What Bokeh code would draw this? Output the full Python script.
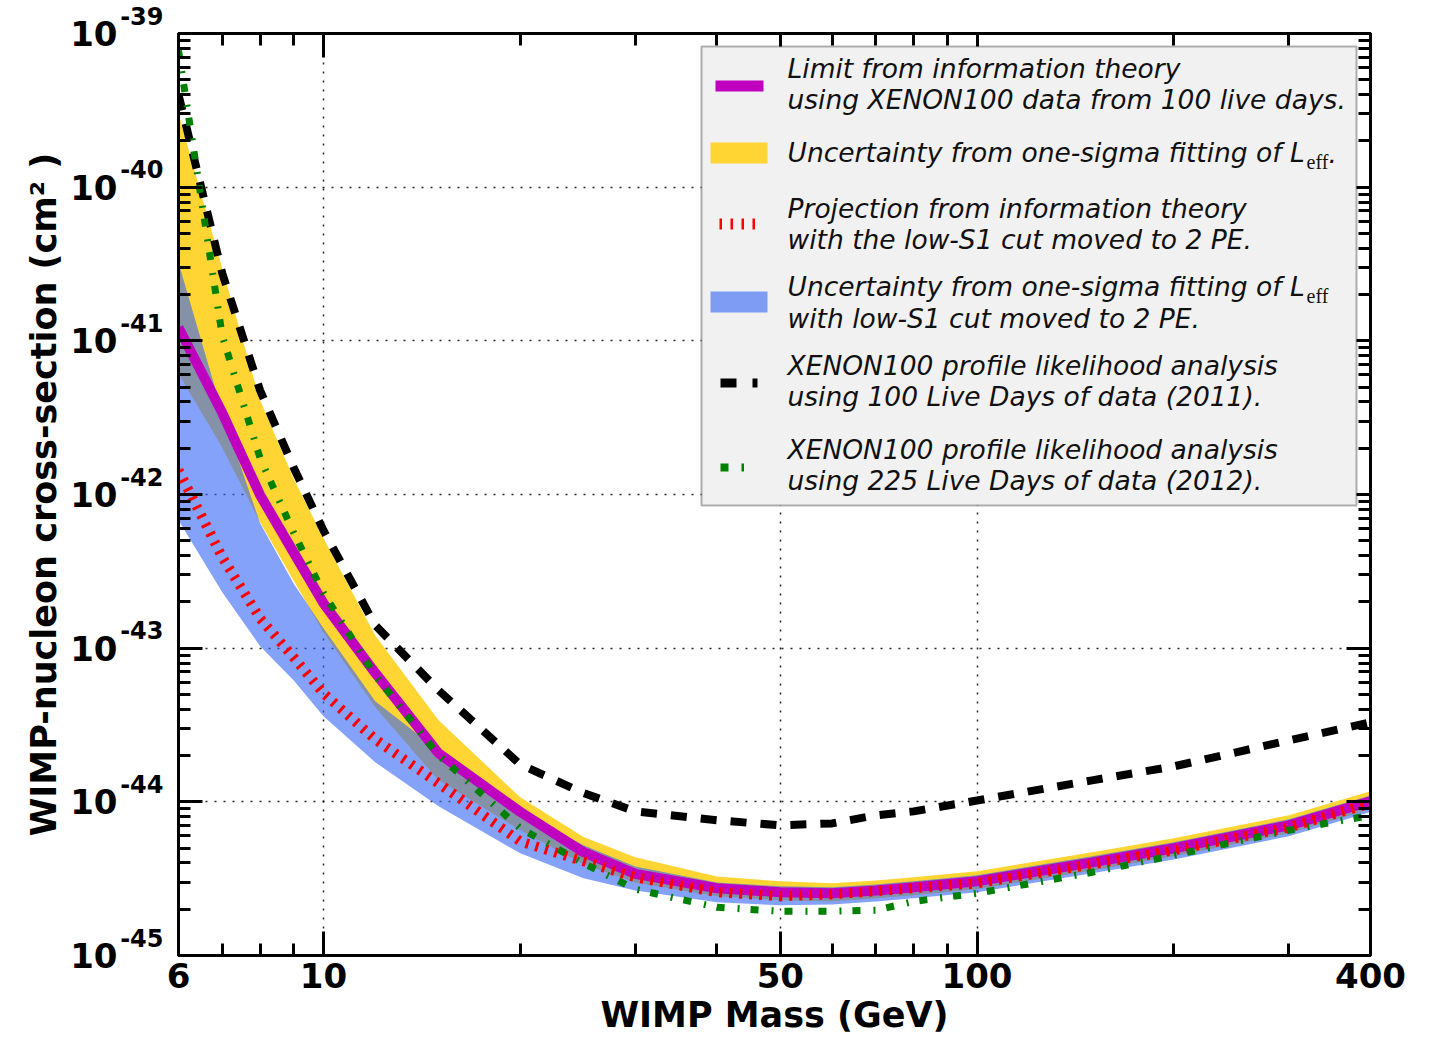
from bokeh.plotting import figure
from bokeh.models import (LogAxis, FixedTicker, Label, BoxAnnotation, Range1d,
                          PrintfTickFormatter, CustomJSTickFormatter)
from bokeh.embed import file_html
from bokeh.resources import INLINE

# WIMP mass grid (GeV)
mass_gev = [6, 7, 8, 9, 10, 12, 15, 20, 25, 30, 40, 50, 60, 70, 80, 100, 150, 200, 300, 400]

# Limit from information theory, XENON100 100 live days (cm^2)
limit_100d = [1.22e-41, 3.4e-42, 9.9e-43, 4.2e-43, 1.96e-43, 6.9e-44, 2.07e-44, 8.6e-45,
              4.7e-45, 3.4e-45, 2.74e-45, 2.58e-45, 2.54e-45, 2.65e-45, 2.78e-45, 3.04e-45,
              4.04e-45, 4.99e-45, 7.03e-45, 1.01e-44]
# One-sigma L_eff uncertainty band around that limit
leff_upper = [3.0e-40, 2.96e-41, 4.1e-42, 1.27e-42, 5.2e-43, 1.21e-43, 3.4e-44, 1.07e-44,
              5.9e-45, 4.36e-45, 3.27e-45, 3.04e-45, 2.95e-45, 3.08e-45, 3.23e-45, 3.53e-45,
              4.7e-45, 5.79e-45, 8.17e-45, 1.17e-44]
leff_lower = [6.1e-42, 2.02e-42, 6.59e-43, 2.76e-43, 1.27e-43, 4.12e-44, 1.38e-44, 6.53e-45,
              3.92e-45, 2.99e-45, 2.43e-45, 2.29e-45, 2.25e-45, 2.36e-45, 2.47e-45, 2.70e-45,
              3.58e-45, 4.42e-45, 6.24e-45, 8.94e-45]

# Projection with the low-S1 cut moved to 2 PE
proj_2pe = [1.44e-42, 3.9e-43, 1.56e-43, 8.71e-44, 5.08e-44, 2.55e-44, 1.32e-44, 5.53e-45,
            4.1e-45, 3.23e-45, 2.58e-45, 2.43e-45, 2.50e-45, 2.62e-45, 2.74e-45, 2.95e-45,
            3.92e-45, 4.84e-45, 6.82e-45, 9.78e-45]
proj_upper = [3.24e-41, 3.42e-42, 6.49e-43, 2.64e-43, 1.35e-43, 4.51e-44, 2.16e-44, 8.6e-45,
              5.21e-45, 3.8e-45, 2.99e-45, 2.82e-45, 2.78e-45, 2.9e-45, 3.04e-45, 3.33e-45,
              4.42e-45, 5.46e-45, 7.69e-45, 1.1e-44]
proj_lower = [6.79e-43, 2.31e-43, 1.03e-43, 6.18e-44, 3.6e-44, 1.81e-44, 9.35e-45, 4.62e-45,
              3.18e-45, 2.65e-45, 2.22e-45, 2.12e-45, 2.15e-45, 2.25e-45, 2.36e-45, 2.58e-45,
              3.43e-45, 4.22e-45, 5.97e-45, 8.6e-45]

# XENON100 profile likelihood limits
xenon_2011 = [4.0e-40, 2.75e-41, 4.75e-42, 1.5e-42, 5.84e-43, 1.41e-43, 5.32e-44, 1.75e-44,
              1.14e-44, 8.67e-45, 7.59e-45, 7.03e-45, 7.24e-45, 8.17e-45, 8.67e-45, 1.02e-44,
              1.38e-44, 1.7e-44, 2.51e-44, 3.29e-44]
xenon_2012 = [7.75e-40, 1.08e-41, 1.72e-42, 5.66e-43, 2.28e-43, 6.65e-44, 2.01e-44, 6.73e-45,
              3.98e-45, 2.7e-45, 2.06e-45, 1.94e-45, 1.94e-45, 1.97e-45, 2.25e-45, 2.54e-45,
              3.48e-45, 4.49e-45, 6.53e-45, 8.17e-45]

# Axis ticks
x_major = [6, 10, 50, 100, 400]
x_minor = [7, 8, 9, 20, 30, 40, 60, 70, 80, 90, 200, 300]
y_exponents = list(range(-45, -38))
y_major = [10.0 ** e for e in y_exponents]
y_minor = [m * 10.0 ** e for e in y_exponents[:-1] for m in range(2, 10)]

legend_lines = [
    ["Limit from information theory", "using XENON100 data from 100 live days."],
    ["Uncertainty from one-sigma fitting of L"],
    ["Projection from information theory", "with the low-S1 cut moved to 2 PE."],
    ["Uncertainty from one-sigma fitting of L", "with low-S1 cut moved to 2 PE."],
    ["XENON100 profile likelihood analysis", "using 100 Live Days of data (2011)."],
    ["XENON100 profile likelihood analysis", "using 225 Live Days of data (2012)."],
]

YELLOW = "#fed533"
BLUE = "#3264f5"
MAGENTA = "#bf00bf"
RED = "#ff0000"
GREEN = "#008000"

p = figure(width=1443, height=1038, x_axis_type="log", y_axis_type="log",
           x_range=Range1d(6, 400), y_range=Range1d(1e-45, 1e-39),
           output_backend="svg", toolbar_location=None,
           min_border_left=178, min_border_right=73, min_border_top=33, min_border_bottom=83)
p.background_fill_color = "white"
p.border_fill_color = "white"
p.outline_line_color = "black"
p.outline_line_width = 3

# bands
p.varea(x=mass_gev, y1=leff_lower, y2=leff_upper, fill_color=YELLOW, fill_alpha=1.0)
p.varea(x=mass_gev, y1=proj_lower, y2=proj_upper, fill_color=BLUE, fill_alpha=0.6)

# curves
p.line(mass_gev, limit_100d, line_color=MAGENTA, line_width=10)
p.line(mass_gev, proj_2pe, line_color=RED, line_width=10, line_dash="3 7")
p.line(mass_gev, xenon_2011, line_color="black", line_width=8, line_dash="16 14")
p.line(mass_gev, xenon_2012, line_color=GREEN, line_width=7, line_dash="8 13 2 11")

# axes
def style_axis(ax, ticker):
    ax.ticker = ticker
    ax.axis_line_width = 3
    ax.axis_line_color = "black"
    ax.major_tick_line_width = 3
    ax.minor_tick_line_width = 3
    ax.major_tick_in = 24
    ax.major_tick_out = 0
    ax.minor_tick_in = 12
    ax.minor_tick_out = 0

def bold_labels(ax, size):
    ax.major_label_text_font_size = size
    ax.major_label_text_font = "DejaVu Sans"
    ax.major_label_text_font_style = "bold"
    ax.major_label_text_color = "black"

def bold_title(ax, text):
    ax.axis_label = text
    ax.axis_label_text_font_size = "35px"
    ax.axis_label_text_font = "DejaVu Sans"
    ax.axis_label_text_font_style = "bold"
    ax.axis_label_text_color = "black"

xt = FixedTicker(ticks=x_major, minor_ticks=x_minor)
yt = FixedTicker(ticks=y_major, minor_ticks=y_minor)

xb = p.xaxis[0]
style_axis(xb, xt)
xb.formatter = PrintfTickFormatter(format="%d")
bold_labels(xb, "34px")
xb.major_label_standoff = 7
bold_title(xb, "WIMP Mass (GeV)")
xb.axis_label_standoff = 4

# inner left axis: ticks plus the raised exponents of the decade labels
yl = p.yaxis[0]
style_axis(yl, yt)
yl.formatter = CustomJSTickFormatter(code="return Math.round(Math.log10(tick)).toString() + '\\n';")
bold_labels(yl, "24px")
yl.major_label_standoff = 15

# outer left axis: the "10" bases and the axis title
yb = LogAxis(ticker=yt, formatter=CustomJSTickFormatter(code="return '10';"))
yb.axis_line_color = None
yb.major_tick_line_color = None
yb.minor_tick_line_color = None
yb.major_tick_in = 0
yb.major_tick_out = 0
yb.minor_tick_in = 0
yb.minor_tick_out = 0
bold_labels(yb, "34px")
yb.major_label_standoff = 0
bold_title(yb, "WIMP-nucleon cross-section (cm\u00b2 )")
yb.axis_label_standoff = 3
p.add_layout(yb, "left")

blank = CustomJSTickFormatter(code="return '';")
xa = LogAxis(formatter=blank)
style_axis(xa, xt)
p.add_layout(xa, "above")
yr = LogAxis(formatter=blank)
style_axis(yr, yt)
p.add_layout(yr, "right")

for g in (p.xgrid[0], p.ygrid[0]):
    g.grid_line_color = "black"
    g.grid_line_dash = "2 7"
    g.grid_line_width = 1.5
    g.grid_line_alpha = 0.85

# legend (screen units measured from the frame's lower-left corner)
FL, FB = 178, 955

def sx(px):
    return px - FL

def sy(py):
    return FB - py

def box(l, t, r, b, **kw):
    p.add_layout(BoxAnnotation(left=sx(l), right=sx(r), top=sy(t), bottom=sy(b),
                               left_units="screen", right_units="screen",
                               top_units="screen", bottom_units="screen",
                               level="overlay", **kw))

box(701, 46, 1356, 505, fill_color="#f1f1f1", fill_alpha=1.0, line_color="black", line_width=2)
box(715, 80, 763, 91, fill_color=MAGENTA, fill_alpha=1.0, line_color=None)
box(710, 142, 767, 163, fill_color=YELLOW, fill_alpha=1.0, line_color=None)
for tx in (719, 730, 741, 752):
    box(tx, 218, tx + 2.5, 229, fill_color=RED, fill_alpha=1.0, line_color=None)
box(710, 291, 767, 312, fill_color=BLUE, fill_alpha=0.6, line_color=None)
box(720, 378, 736, 387, fill_color="black", fill_alpha=1.0, line_color=None)
box(752, 378, 757, 387, fill_color="black", fill_alpha=1.0, line_color=None)
box(720, 463, 728, 471, fill_color=GREEN, fill_alpha=1.0, line_color=None)
box(741, 463, 743.5, 471, fill_color=GREEN, fill_alpha=1.0, line_color=None)

line_y = [[68, 99], [152], [208, 239], [286, 318], [365, 396], [449, 480]]
for texts, ys in zip(legend_lines, line_y):
    for t, yy in zip(texts, ys):
        p.add_layout(Label(x=sx(787), y=sy(yy), x_units="screen", y_units="screen",
                           text=t, text_align="left", text_baseline="middle",
                           text_font="DejaVu Sans", text_font_style="italic",
                           text_font_size="26.5px", text_color="#111111", level="overlay"))

for yy in (161, 295):
    p.add_layout(Label(x=sx(1306), y=sy(yy), x_units="screen", y_units="screen",
                       text="eff", text_align="left", text_baseline="middle",
                       text_font="Liberation Serif", text_font_size="20px",
                       text_color="#111111", level="overlay"))
p.add_layout(Label(x=sx(1328), y=sy(152), x_units="screen", y_units="screen",
                   text=".", text_align="left", text_baseline="middle",
                   text_font="DejaVu Sans", text_font_style="italic",
                   text_font_size="26.5px", text_color="#111111", level="overlay"))

open("out.html", "w").write(file_html(p, INLINE))
